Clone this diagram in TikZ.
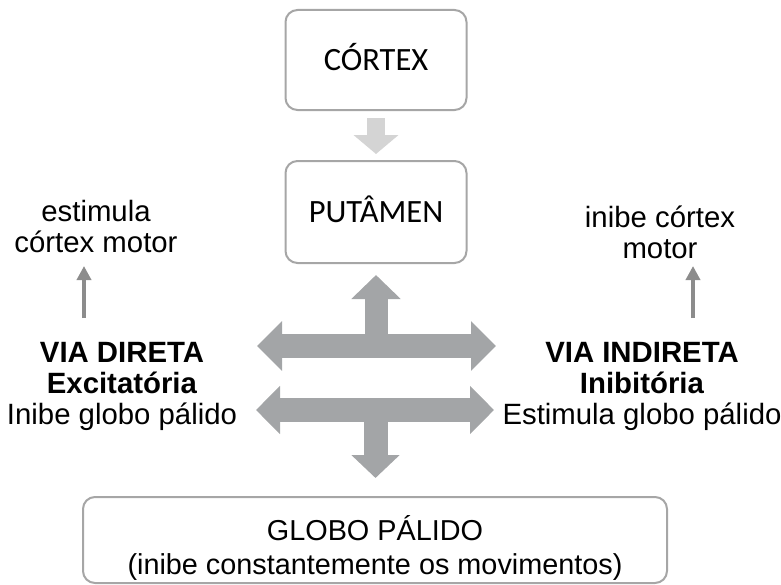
\documentclass[tikz,border=0pt]{standalone}
\usepackage{fontspec}
\setmainfont{Liberation Sans}
\newfontfamily\boxfont{Carlito}
\usetikzlibrary{arrows.meta}
\definecolor{mborder}{RGB}{166,166,166}
\definecolor{mlight}{RGB}{212,212,212}
\definecolor{mblock}{RGB}{163,165,167}
\definecolor{mthin}{RGB}{140,140,140}

\begin{document}
\begin{tikzpicture}[
    pbox/.style={rectangle, draw=mborder, line width=0.04cm, rounded corners=0.24cm},
    boxtext/.style={font=\boxfont\fontsize{18.5}{20}\selectfont, text height=11.9pt, text depth=0pt},
    lbl/.style={align=center, font=\fontsize{16.7}{17.6}\selectfont},
    thinarrow/.style={mthin, line width=0.075cm, -{Triangle[width=0.28cm,length=0.28cm]}},
    lightarrow/.style={mlight, line width=0.36cm, -{Triangle[width=0.88cm,length=0.38cm]}},
    blockarrow/.style={mblock, line width=0.48cm}
]
    \useasboundingbox (0,0) rectangle (15.62,11.68);

    \node[pbox, boxtext, minimum width=3.62cm, minimum height=2cm] (cortex)  at (7.52,10.48) {CÓRTEX};
    \node[pbox, boxtext, minimum width=3.62cm, minimum height=2.04cm] (putamen) at (7.52,7.44) {PUTÂMEN};
    \node[pbox, align=center, font=\fontsize{16.4}{18.8}\selectfont, text height=1.36cm, text depth=0pt, inner ysep=0.1cm,
          minimum width=11.68cm, minimum height=1.72cm] (globo) at (7.5,0.88) {GLOBO PÁLIDO\\(inibe constantemente os movimentos)};

    \node[lbl, anchor=base] (estim)    at (1.92,6.64)  {estimula\\córtex motor};
    \node[lbl, anchor=base] (inibe)    at (13.2,6.52)  {inibe córtex\\motor};
    \node[lbl, anchor=base] (direta)   at (2.44,3.20)  {\textbf{VIA DIRETA}\\\textbf{Excitatória}\\Inibe globo pálido};
    \node[lbl, anchor=base] (indireta) at (12.84,3.20) {\textbf{VIA INDIRETA}\\\textbf{Inibitória}\\Estimula globo pálido};

    \coordinate (hub_up)    at (7.52,4.76);
    \coordinate (hub_down)  at (7.51,3.48);
    \coordinate (up_left)   at (5.14,4.76);
    \coordinate (up_right)  at (9.92,4.76);
    \coordinate (up_tip)    at (7.52,6.18);
    \coordinate (lo_left)   at (5.12,3.48);
    \coordinate (lo_right)  at (9.88,3.48);
    \coordinate (down_tip)  at (7.51,2.12);
    \coordinate (dir_foot)  at (1.68,5.32);
    \coordinate (dir_head)  at (1.68,6.36);
    \coordinate (ind_foot)  at (13.86,5.32);
    \coordinate (ind_head)  at (13.86,6.36);

    \draw[lightarrow] ([yshift=-0.14cm]cortex.south) -- ([yshift=0.12cm]putamen.north);
    \draw[blockarrow, {Triangle[width=0.96cm,length=0.5cm]}-{Triangle[width=0.96cm,length=0.5cm]}] (up_left) -- (up_right);
    \draw[blockarrow, line width=0.46cm, -{Triangle[width=0.96cm,length=0.48cm]}] (hub_up) -- (up_tip);
    \draw[blockarrow, {Triangle[width=0.94cm,length=0.48cm]}-{Triangle[width=0.94cm,length=0.48cm]}] (lo_left) -- (lo_right);
    \draw[blockarrow, -{Triangle[width=0.94cm,length=0.46cm]}] (hub_down) -- (down_tip);
    \draw[thinarrow] (dir_foot) -- (dir_head);
    \draw[thinarrow] (ind_foot) -- (ind_head);
\end{tikzpicture}
\end{document}
